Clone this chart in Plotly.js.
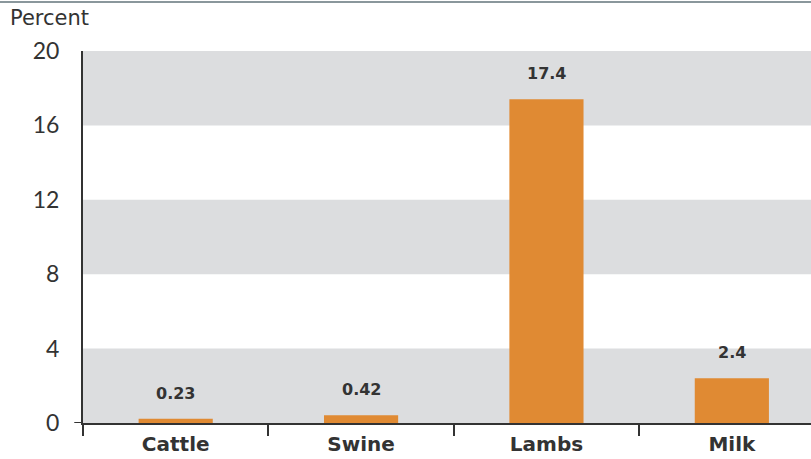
<!DOCTYPE html>
<html>
<head>
<meta charset="utf-8">
<script src="https://cdn.plot.ly/plotly-3.0.1.min.js"></script>
<style>html,body{margin:0;padding:0;background:#fff}</style>
</head>
<body>
<div id="chart" style="width:811px;height:459px"></div>
<script>
const categories = ["Cattle", "Swine", "Lambs", "Milk"];
const values = [0.23, 0.42, 17.4, 2.4];
const valueLabels = ["0.23", "0.42", "17.4", "2.4"];
const yTicks = [0, 4, 8, 12, 16, 20];
const bands = [[0, 4], [8, 12], [16, 20]];

const shapes = bands.map(b => ({
  type: "rect", xref: "paper", yref: "y", x0: 0, x1: 1, y0: b[0], y1: b[1],
  fillcolor: "#dcdddf", line: {width: 0}, layer: "below"
}));
shapes.push({type: "line", xref: "paper", yref: "paper", x0: -0.12, x1: 1, y0: 1.132, y1: 1.132,
  line: {color: "#8a979c", width: 2}});
shapes.push({type: "line", xref: "paper", yref: "y", x0: -0.012, x1: 0, y0: 0, y1: 0,
  line: {color: "#333", width: 2}});

const annotations = categories.map((c, i) => ({
  x: c, y: values[i], text: "<b>" + valueLabels[i] + "</b>", showarrow: false,
  yanchor: "bottom", yshift: 14, font: {family: "DejaVu Sans, Arial, sans-serif", size: 16, color: "#333"}
}));
annotations.push({xref: "paper", yref: "paper", x: -0.103, y: 1.05, xanchor: "left", yanchor: "bottom",
  text: "Percent", showarrow: false, font: {family: "DejaVu Sans, Arial, sans-serif", size: 21, color: "#333"}});

Plotly.newPlot("chart", [{
  type: "bar", x: categories, y: values,
  marker: {color: "#e08a33"}, width: 0.4, hoverinfo: "none"
}], {
  width: 811, height: 459,
  margin: {l: 83, r: 0, t: 51, b: 36},
  paper_bgcolor: "#fff", plot_bgcolor: "#fff",
  showlegend: false,
  shapes: shapes, annotations: annotations,
  xaxis: {
    range: [-0.5, 3.427], tickson: "boundaries", ticks: "outside", ticklen: 11, tickwidth: 2, tickcolor: "#333",
    showline: true, linecolor: "#333", linewidth: 2, showgrid: false, zeroline: false,
    ticklabelstandoff: 2,
    tickfont: {family: "DejaVu Sans, Arial, sans-serif", size: 20, color: "#333", weight: "bold"}
  },
  yaxis: {
    range: [0, 20], tickvals: yTicks, ticks: "", ticklabelstandoff: 17,
    showline: true, linecolor: "#333", linewidth: 2, showgrid: false, zeroline: false,
    tickfont: {family: "Lato, Arial, sans-serif", size: 23, color: "#333"}
  }
}, {staticPlot: true});
</script>
</body>
</html>
